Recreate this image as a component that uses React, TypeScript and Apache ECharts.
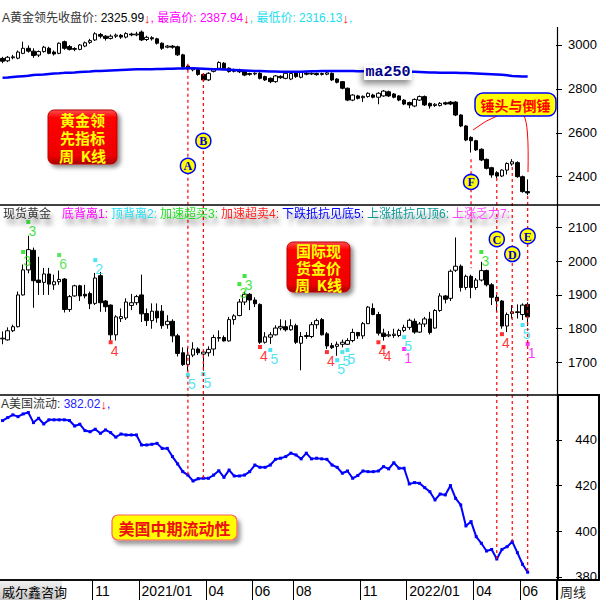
import React, { useEffect, useRef } from 'react';
import * as echarts from 'echarts';

const FONT = "'Liberation Sans', 'Noto Sans CJK SC', sans-serif";
const CJK = "'Noto Sans CJK SC', sans-serif";

const firstWeek = '2020-07-03';
const slotCount = 108;

const xTickLabels: Record<string, string> = {
  '2020-11-06': '11', '2021-01-08': '2021/01', '2021-04-09': '04', '2021-06-11': '06',
  '2021-08-06': '08', '2021-11-05': '11', '2022-01-07': '2022/01', '2022-04-08': '04', '2022-06-10': '06',
};

// 黄金领先 weekly candles: [open, close, low, high]
const leadOHLC = [
  [2939, 2926, 2917, 2946], [2928, 2944, 2922, 2950], [2942, 2946, 2935, 2955], [2940, 2968, 2935, 2975],
  [2962, 2985, 2958, 3015], [2985, 2972, 2965, 2998], [2972, 2952, 2942, 2985], [2954, 2970, 2945, 2975],
  [2970, 2990, 2965, 2996], [2985, 2962, 2958, 2992], [2968, 2959, 2952, 2975], [2962, 3008, 2958, 3012],
  [3015, 2985, 2978, 3020], [2993, 2980, 2975, 3000], [2980, 2984, 2972, 2990], [2980, 3000, 2976, 3004],
  [2995, 3010, 2990, 3016], [3012, 3020, 3005, 3028], [3023, 3051, 3018, 3058], [3048, 3040, 3030, 3055],
  [3040, 3030, 3020, 3045], [3030, 3040, 3025, 3048], [3040, 3045, 3032, 3052], [3044, 3036, 3028, 3050],
  [3036, 3052, 3030, 3058], [3050, 3046, 3040, 3056], [3046, 3050, 3040, 3060], [3059, 3023, 3018, 3066],
  [3025, 3035, 3018, 3042], [3033, 3028, 3020, 3040], [3028, 3008, 3002, 3033], [3008, 2985, 2978, 3012],
  [2990, 2995, 2985, 3000], [2995, 2990, 2983, 3000], [2992, 2955, 2950, 2997], [2955, 2901, 2895, 2960],
  [2904, 2891, 2885, 2910], [2887, 2893, 2880, 2898], [2889, 2866, 2860, 2894], [2866, 2841, 2835, 2872],
  [2841, 2871, 2836, 2876], [2880, 2888, 2875, 2893], [2894, 2920, 2890, 2926], [2917, 2894, 2888, 2922],
  [2894, 2879, 2874, 2898], [2880, 2888, 2875, 2892], [2887, 2878, 2872, 2892], [2881, 2863, 2858, 2885],
  [2866, 2870, 2860, 2874], [2868, 2871, 2862, 2875], [2871, 2848, 2843, 2876], [2856, 2841, 2836, 2860],
  [2848, 2833, 2826, 2852], [2833, 2859, 2828, 2863], [2857, 2851, 2846, 2862], [2848, 2871, 2844, 2875],
  [2845, 2870, 2840, 2874], [2877, 2856, 2850, 2880], [2853, 2875, 2848, 2880], [2871, 2867, 2862, 2876],
  [2868, 2871, 2863, 2875], [2870, 2865, 2860, 2874], [2866, 2870, 2861, 2874], [2867, 2873, 2862, 2878],
  [2871, 2841, 2836, 2875], [2845, 2830, 2825, 2849], [2833, 2803, 2798, 2836], [2803, 2749, 2744, 2806],
  [2749, 2772, 2744, 2776], [2768, 2757, 2752, 2773], [2760, 2766, 2740, 2770], [2765, 2780, 2760, 2784],
  [2772, 2762, 2757, 2778], [2762, 2780, 2730, 2785], [2768, 2790, 2764, 2795], [2787, 2768, 2763, 2792],
  [2777, 2762, 2757, 2781], [2768, 2749, 2744, 2772], [2749, 2731, 2726, 2753], [2738, 2727, 2712, 2742],
  [2722, 2752, 2717, 2757], [2749, 2765, 2745, 2770], [2765, 2727, 2722, 2770], [2734, 2722, 2710, 2738],
  [2724, 2730, 2718, 2735], [2724, 2734, 2720, 2740], [2737, 2731, 2726, 2742], [2740, 2731, 2726, 2745],
  [2740, 2681, 2676, 2744], [2681, 2631, 2626, 2685], [2631, 2567, 2562, 2635], [2579, 2564, 2510, 2584],
  [2564, 2522, 2517, 2568], [2525, 2476, 2471, 2529], [2479, 2438, 2433, 2483], [2441, 2408, 2395, 2445],
  [2418, 2403, 2392, 2425], [2403, 2430, 2398, 2434], [2430, 2460, 2410, 2465], [2458, 2468, 2450, 2480],
  [2464, 2400, 2395, 2470], [2400, 2332, 2327, 2405], [2332, 2326, 2316, 2388],
];

const ma250 = [
  2851, 2852, 2854, 2856, 2858, 2860, 2863, 2865, 2866, 2868, 2870, 2871, 2873,
  2874, 2875, 2877, 2878, 2879, 2881, 2882, 2883, 2884, 2885, 2886, 2887,
  2888, 2889, 2889, 2890, 2890, 2891, 2891, 2892, 2892, 2893, 2893,
  2894, 2894, 2893, 2892, 2891, 2890, 2889, 2888, 2887, 2886, 2885, 2884,
  2883, 2882, 2881, 2880, 2879, 2879, 2878, 2878, 2878, 2878,
  2878, 2879, 2880, 2880, 2881, 2881,
  2882, 2882, 2881, 2881, 2881, 2880, 2880, 2880, 2880, 2879, 2879, 2879, 2879, 2879, 2878, 2878,
  2878, 2877, 2876, 2875, 2875, 2874, 2874, 2873, 2873, 2872, 2872,
  2871, 2870, 2869, 2868, 2867, 2866, 2864, 2862, 2859, 2858, 2857, 2856,
];

// 现货黄金 weekly candles: [open, close, low, high]
const spotOHLC = [
  [1770, 1772, 1754, 1792], [1767, 1794, 1765, 1804], [1794, 1806, 1790, 1812], [1806, 1900, 1804, 1910],
  [1900, 1974, 1898, 1990], [1974, 2034, 1964, 2075], [2032, 1942, 1862, 2040], [1944, 1937, 1900, 2013],
  [1937, 1962, 1900, 1980], [1962, 1932, 1900, 1980], [1930, 1939, 1915, 1960], [1939, 1946, 1930, 1972],
  [1947, 1857, 1848, 1950], [1857, 1895, 1850, 1900], [1897, 1927, 1895, 1930], [1927, 1897, 1882, 1930],
  [1902, 1897, 1890, 1930], [1904, 1874, 1858, 1910], [1875, 1950, 1870, 1965], [1957, 1877, 1850, 1968],
  [1882, 1865, 1850, 1885], [1870, 1782, 1765, 1872], [1782, 1835, 1765, 1840], [1830, 1836, 1820, 1860],
  [1832, 1879, 1826, 1890], [1869, 1877, 1855, 1903], [1877, 1895, 1870, 1900], [1900, 1844, 1820, 1960],
  [1845, 1824, 1808, 1860], [1824, 1852, 1800, 1875], [1852, 1832, 1818, 1875], [1852, 1809, 1800, 1870],
  [1812, 1822, 1800, 1840], [1822, 1779, 1760, 1828], [1779, 1727, 1718, 1785], [1729, 1694, 1690, 1745],
  [1694, 1722, 1675, 1745], [1722, 1740, 1716, 1760], [1740, 1729, 1722, 1745], [1725, 1731, 1676, 1737],
  [1729, 1739, 1718, 1748], [1740, 1774, 1720, 1782], [1772, 1774, 1762, 1795], [1774, 1764, 1762, 1780],
  [1764, 1827, 1762, 1835], [1827, 1838, 1812, 1843], [1839, 1879, 1837, 1888], [1879, 1902, 1870, 1910],
  [1902, 1885, 1855, 1905], [1885, 1874, 1864, 1893], [1872, 1760, 1755, 1875], [1760, 1776, 1756, 1790],
  [1775, 1782, 1755, 1790], [1782, 1802, 1780, 1810], [1802, 1807, 1795, 1828], [1806, 1797, 1792, 1825],
  [1797, 1809, 1794, 1828], [1809, 1760, 1755, 1815], [1757, 1777, 1677, 1790], [1777, 1780, 1770, 1790],
  [1777, 1812, 1772, 1820], [1812, 1824, 1800, 1830], [1827, 1782, 1780, 1832], [1785, 1749, 1740, 1790],
  [1750, 1744, 1740, 1758], [1748, 1754, 1720, 1762], [1754, 1760, 1745, 1768], [1754, 1765, 1752, 1772],
  [1765, 1789, 1760, 1800], [1789, 1779, 1770, 1790], [1779, 1815, 1770, 1820], [1815, 1864, 1814, 1867],
  [1860, 1842, 1840, 1875], [1842, 1787, 1780, 1850], [1787, 1777, 1765, 1800], [1779, 1782, 1775, 1793],
  [1780, 1784, 1773, 1800], [1780, 1795, 1775, 1800], [1795, 1804, 1790, 1812], [1804, 1825, 1797, 1830],
  [1822, 1790, 1785, 1830], [1790, 1814, 1788, 1820], [1814, 1829, 1805, 1835], [1829, 1789, 1783, 1850],
  [1802, 1854, 1800, 1858], [1854, 1897, 1850, 1905], [1897, 1887, 1875, 1900], [1890, 1970, 1882, 1975],
  [1973, 1985, 1968, 2070], [1985, 1922, 1910, 1990], [1922, 1955, 1915, 1960], [1955, 1922, 1890, 1960],
  [1922, 1944, 1915, 1950], [1944, 1972, 1940, 1998], [1972, 1930, 1925, 1975], [1930, 1893, 1870, 1935],
  [1893, 1882, 1850, 1900], [1882, 1808, 1800, 1885], [1808, 1842, 1790, 1848], [1845, 1850, 1830, 1870],
  [1850, 1848, 1830, 1872], [1842, 1870, 1826, 1875], [1872, 1835, 1808, 1878],
];

// 美国流动性
const usLiquidity = [
  448.5, 449.8, 451.0, 450.2, 451.4, 452.0, 447.6, 449.5, 447.0, 448.8,
  448.8, 448.8, 448.8, 448.5, 446.1, 446.9, 444.1, 443.6, 444.7, 442.9,
  444.4, 443.2, 441.2, 442.6, 442.2, 442.2, 442.2, 437.8, 437.8, 438.1,
  438.5, 436.3, 436.3, 432.7, 429.5, 426.1, 424.6, 422.0, 423.0, 423.2,
  423.2, 424.6, 426.5, 423.6, 426.8, 424.2, 424.2, 424.6, 426.1, 429.0,
  428.0, 428.0, 429.0, 431.5, 432.0, 432.7, 434.2, 433.4, 431.7, 434.2,
  431.7, 432.0, 431.7, 431.5, 429.0, 428.0, 425.4, 426.4, 423.2, 424.4,
  426.4, 426.1, 426.1, 426.4, 428.3, 427.3, 430.0, 427.6, 427.6, 420.7,
  421.3, 421.0, 419.1, 417.3, 413.7, 416.3, 415.9, 420.0, 414.4, 411.5,
  402.3, 404.2, 397.6, 394.7, 391.3, 392.0, 387.8, 392.0, 393.2, 395.4,
  390.6, 385.5, 382.02,
];

const leadTicks = [2400, 2600, 2800, 3000];
const spotTicks = [1700, 1800, 1900, 2000, 2100];
const liqTicks = [380, 400, 420, 440];

// signal marks on the spot panel
const signalIdx = [5, 4, 11, 18, 21, 36, 39, 47, 46, 50, 52, 63, 65, 66, 67, 73, 74, 78, 78, 93, 97, 101, 102];
const signalValue = [2116, 2027, 2018, 2003, 1760, 1663, 1666, 1956, 1932, 1746, 1737, 1731, 1707, 1731, 1737, 1760, 1746, 1740, 1775, 2027, 1784, 1811, 1755];
const signalCode = [3, 3, 6, 2, 4, 5, 5, 3, 3, 4, 5, 4, 5, 5, 5, 4, 4, 1, 5, 3, 4, 5, 1];
const signalColors: Record<number, string> = { 1: '#ff00ff', 2: '#22ddee', 3: '#11dd11', 4: '#ff0000', 5: '#22ddee', 6: '#33dd33' };

// lettered annotations
const annotLetters = ['A', 'B', 'F', 'C', 'D', 'E'];
const annotIdx = [36, 39, 91, 96, 99, 102];
const annotLineTop = [2915, 2872, 2479, 2394, 2444, 2312];
const annotCircleGrid = [0, 0, 0, 1, 1, 1];
const annotCircleValue = [2449, 2563, 2376, 2065, 2021, 2074];
const fLineEndSpot = 1979;

export default function App() {
  const ref = useRef<HTMLDivElement>(null);
  useEffect(() => {
    const el = ref.current!;
    const chart = echarts.init(el, null, { renderer: 'svg', width: 600, height: 600 });

    const categories: string[] = [];
    const t0 = Date.parse(firstWeek + 'T00:00:00Z');
    for (let i = 0; i < slotCount; i++) categories.push(new Date(t0 + i * 7 * 86400000).toISOString().slice(0, 10));

    const yAxis = (grid: number, min: number, max: number, vals: number[]) => ({
      type: 'value', gridIndex: grid, position: 'right', min, max, scale: true,
      splitLine: { show: false }, axisLine: { show: false },
      axisTick: { show: true, customValues: vals, length: 6, lineStyle: { color: '#000' } },
      axisLabel: {
        customValues: vals, align: 'right', margin: 41, fontSize: 13, fontFamily: FONT, color: '#000',
        formatter: (v: number) => String(v),
      },
    });
    const xAxis = (grid: number) => ({
      type: 'category', gridIndex: grid, data: categories, boundaryGap: true,
      axisLine: { show: grid === 2, lineStyle: { color: '#000', width: 1.5 } },
      axisTick: grid === 2 ? {
        show: true, length: 20, lineStyle: { color: '#000' },
        interval: (_i: number, v: string) => v in xTickLabels,
      } : { show: false },
      axisLabel: grid === 2 ? {
        show: true, align: 'left', margin: 4, fontSize: 14, fontFamily: FONT, color: '#000',
        interval: (_i: number, v: string) => v in xTickLabels,
        formatter: (v: string) => xTickLabels[v] || '',
      } : { show: false },
      splitLine: { show: false },
    });
    const candleStyle = { color: '#ffffff', color0: '#000000', borderColor: '#000000', borderColor0: '#000000', borderWidth: 1 };

    chart.setOption({
      animation: false,
      backgroundColor: '#ffffff',
      grid: [
        { left: 0, right: 43, top: 27, height: 178 },
        { left: 0, right: 43, top: 205, height: 190 },
        { left: 0, right: 43, top: 395, height: 185 },
      ],
      xAxis: [xAxis(0), xAxis(1), xAxis(2)],
      yAxis: [yAxis(0, 2271, 3082, leadTicks), yAxis(1, 1604, 2166, spotTicks), yAxis(2, 378.6, 459.7, liqTicks)],
      series: [
        { type: 'candlestick', xAxisIndex: 0, yAxisIndex: 0, data: leadOHLC, barWidth: 4, itemStyle: candleStyle, silent: true },
        { type: 'line', xAxisIndex: 0, yAxisIndex: 0, data: ma250, symbol: 'none', lineStyle: { color: '#0000ff', width: 2.5 }, silent: true },
        { type: 'candlestick', xAxisIndex: 1, yAxisIndex: 1, data: spotOHLC, barWidth: 4, itemStyle: candleStyle, silent: true },
        {
          type: 'scatter', xAxisIndex: 1, yAxisIndex: 1, symbol: 'rect', symbolSize: 4, silent: true, z: 5,
          data: signalIdx.map((ix, k) => ({
            value: [ix, signalValue[k]],
            itemStyle: { color: signalColors[signalCode[k]] },
            label: { color: signalColors[signalCode[k]] },
          })),
          label: {
            show: true, position: 'bottom', distance: 0, offset: [4, 0], fontSize: 14, fontFamily: FONT,
            formatter: (p: any) => String(signalCode[p.dataIndex]),
          },
        },
        {
          type: 'line', xAxisIndex: 2, yAxisIndex: 2, data: usLiquidity, symbol: 'rect', symbolSize: 3, showSymbol: true,
          itemStyle: { color: '#0000ff' }, lineStyle: { color: '#0000ff', width: 2 }, silent: true,
        },
      ],
    });

    const px = (g: number, i: number, v: number) => chart.convertToPixel({ gridIndex: g }, [i, v]) as number[];
    const els: any[] = [];
    const Z = 100;

    // dashed annotation lines
    annotIdx.forEach((ix, k) => {
      const x = px(0, ix, 0)[0];
      const y1 = px(0, ix, annotLineTop[k])[1];
      const y2 = annotLetters[k] === 'F' ? px(1, ix, fLineEndSpot)[1] : px(2, ix, usLiquidity[ix])[1];
      els.push({ type: 'line', z: Z, shape: { x1: x, y1, x2: x, y2 }, style: { stroke: '#ff0000', lineWidth: 1.2, lineDash: [3, 3] } });
    });

    // panel separators and right axis
    [205, 395, 580].forEach((y) => els.push({ type: 'line', z: Z, shape: { x1: 0, y1: y, x2: 600, y2: y }, style: { stroke: '#000', lineWidth: 1.5 } }));
    els.push({ type: 'line', z: Z, shape: { x1: 557.5, y1: 27, x2: 557.5, y2: 600 }, style: { stroke: '#000', lineWidth: 1.2 } });
    els.push({ type: 'rect', z: Z, shape: { x: 558, y: 395, width: 41, height: 185 }, style: { fill: 'none', stroke: '#000', lineWidth: 2 } });

    // headers
    els.push({
      type: 'text', z: Z, x: 2, y: 18,
      style: {
        text: '{k|A黄金领先收盘价: }{v|2325.99}{r|↓}{m|, 最高价: 2387.94}{r|↓}{c|, 最低价: 2316.13}{r|↓}{c|,}',
        verticalAlign: 'middle', fontSize: 12, fontFamily: FONT,
        rich: {
          k: { fill: '#333', fontSize: 12, fontFamily: FONT }, v: { fill: '#000', fontSize: 12, fontFamily: FONT },
          r: { fill: '#ff0000', fontSize: 13, fontFamily: FONT }, m: { fill: '#ff00ff', fontSize: 12, fontFamily: FONT },
          c: { fill: '#22ddee', fontSize: 12, fontFamily: FONT },
        },
      },
    });
    const sh = { textShadowColor: 'rgba(0,0,0,0.45)', textShadowBlur: 4, textShadowOffsetX: 3, textShadowOffsetY: 6 };
    const hs = (fill: string) => ({ fill, fontSize: 12, fontFamily: FONT, padding: [0, 3, 0, 0], ...sh });
    els.push({
      type: 'text', z: Z, x: 3, y: 214,
      style: {
        text: '{t|现货黄金}{m|底背离1:}{c|顶背离2:}{g|加速超买3:}{r|加速超卖4:}{b|下跌抵抗见底5:}{e|上涨抵抗见顶6:}{p|上涨乏力7:}',
        verticalAlign: 'middle', fontSize: 12, fontFamily: FONT,
        rich: {
          t: { ...hs('#333'), padding: [0, 11, 0, 0] }, m: hs('#ff00ff'), c: hs('#22ddee'), g: hs('#22dd22'),
          r: hs('#ff2222'), b: hs('#0000ff'), e: hs('#119999'), p: hs('#ff44ff'),
        },
      },
    });
    els.push({
      type: 'text', z: Z, x: 1, y: 404,
      style: {
        text: '{k|A美国流动: }{b|382.02}{r|↓}{b|,}', verticalAlign: 'middle', fontSize: 12, fontFamily: FONT,
        rich: {
          k: { fill: '#333', fontSize: 12, fontFamily: FONT }, b: { fill: '#2222ff', fontSize: 12, fontFamily: FONT },
          r: { fill: '#ff0000', fontSize: 13, fontFamily: FONT },
        },
      },
    });

    // red title boxes (one text element per line)
    const redBox = (x: number, y: number, w: number, h: number, lines: string[]) => {
      els.push({
        type: 'rect', z: Z + 2, shape: { x, y, width: w, height: h, r: 6 },
        style: {
          fill: new echarts.graphic.LinearGradient(0, 0, 0, 1, [
            { offset: 0, color: '#ff5050' }, { offset: 0.15, color: '#ff0000' }, { offset: 0.85, color: '#ee0000' }, { offset: 1, color: '#aa0000' },
          ]),
          stroke: '#bb0000', lineWidth: 1, shadowBlur: 4, shadowOffsetX: 3, shadowOffsetY: 3, shadowColor: 'rgba(0,0,0,0.45)',
        },
      });
      const step = h / lines.length;
      lines.forEach((t, k) => {
        els.push({
          type: 'text', z: Z + 3, x: x + w / 2, y: y + step * (k + 0.5) + 0.5,
          style: { text: t, fill: '#ffff00', fontSize: 15, fontWeight: 'bold', fontFamily: CJK, align: 'center', verticalAlign: 'middle', lineHeight: 15 },
        });
      });
    };
    redBox(48, 110, 69, 54, ['黄金领', '先指标', '周  K线']);
    redBox(287, 242, 63, 50, ['国际现', '货金价', '周  K线']);

    // yellow boxes
    els.push({ type: 'bezierCurve', z: Z, shape: { x1: 497, y1: 116, x2: 473, y2: 130, cpx1: 486, cpy1: 120 }, style: { stroke: '#ff0000', lineWidth: 1, fill: 'none' } });
    els.push({ type: 'bezierCurve', z: Z, shape: { x1: 524, y1: 116, x2: 528, y2: 172, cpx1: 529, cpy1: 124 }, style: { stroke: '#ff0000', lineWidth: 1, fill: 'none' } });
    els.push({
      type: 'rect', z: Z + 2, shape: { x: 475, y: 93, width: 81, height: 23, r: 8 },
      style: { fill: '#ffff00', stroke: '#0000ff', lineWidth: 1.5 },
    });
    els.push({
      type: 'text', z: Z + 3, x: 515.5, y: 105,
      style: { text: '锤头与倒锤', fill: '#ff0000', fontSize: 14, fontWeight: 'bold', fontFamily: CJK, align: 'center', verticalAlign: 'middle' },
    });
    els.push({
      type: 'rect', z: Z + 2, shape: { x: 112, y: 515, width: 125, height: 25, r: 6 },
      style: { fill: '#ffff00', stroke: '#ff6060', lineWidth: 1.2, shadowBlur: 4, shadowOffsetX: 3, shadowOffsetY: 4, shadowColor: 'rgba(0,0,0,0.4)' },
    });
    els.push({
      type: 'text', z: Z + 3, x: 174.5, y: 528,
      style: { text: '美国中期流动性', fill: '#ee1111', fontSize: 16, fontWeight: 'bold', fontFamily: CJK, align: 'center', verticalAlign: 'middle' },
    });

    // ma250 label
    els.push({
      type: 'rect', z: Z + 2, shape: { x: 364, y: 65, width: 48, height: 15 },
      style: { fill: '#ffffff', shadowBlur: 6, shadowOffsetX: -2, shadowOffsetY: 4, shadowColor: 'rgba(0,0,0,0.45)' },
    });
    els.push({
      type: 'text', z: Z + 3, x: 388, y: 72.5,
      style: { text: 'ma250', fill: '#000088', fontSize: 15, fontWeight: 'bold', fontFamily: "'Liberation Mono', monospace", align: 'center', verticalAlign: 'middle' },
    });

    // lettered circles
    annotIdx.forEach((ix, k) => {
      const [cx, cy] = px(annotCircleGrid[k], ix, annotCircleValue[k]);
      els.push({ type: 'circle', z: Z + 4, shape: { cx, cy, r: 7.5 }, style: { fill: '#ffff00', stroke: '#0000ff', lineWidth: 1.5 } });
      els.push({
        type: 'text', z: Z + 5, x: cx, y: cy + 0.5,
        style: { text: annotLetters[k], fill: '#0000cc', fontSize: 12, fontWeight: 'bold', fontFamily: "'Liberation Serif', serif", align: 'center', verticalAlign: 'middle' },
      });
    });

    // bottom strip
    els.push({
      type: 'rect', z: Z, shape: { x: 0, y: 581, width: 62, height: 19 },
      style: { fill: new echarts.graphic.LinearGradient(0, 0, 0, 1, [{ offset: 0, color: '#f0f0f0' }, { offset: 1, color: '#c8c8c8' }]) },
    });
    els.push({ type: 'text', z: Z + 1, x: 2, y: 591, style: { text: '威尔鑫咨询', fill: '#000', fontSize: 13, fontFamily: CJK, verticalAlign: 'middle' } });
    els.push({ type: 'text', z: Z + 1, x: 560, y: 591, style: { text: '周线', fill: '#222', fontSize: 13, fontFamily: CJK, verticalAlign: 'middle' } });

    chart.setOption({ graphic: { elements: els } });

    return () => chart.dispose();
  }, []);

  return <div ref={ref} style={{ position: 'fixed', left: 0, top: 0, width: 600, height: 600, background: '#fff' }} />;
}
